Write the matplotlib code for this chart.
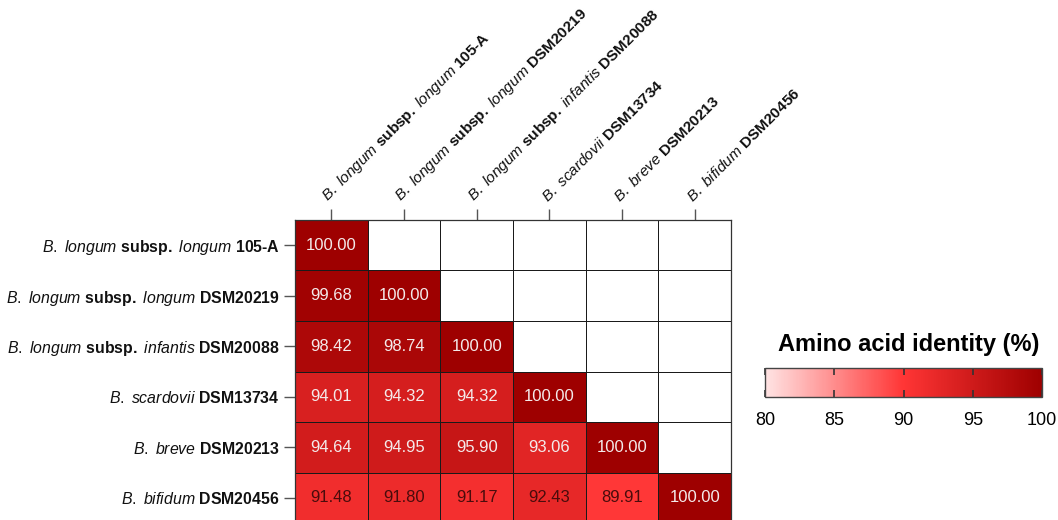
import numpy as np
import matplotlib
matplotlib.use("Agg")
import matplotlib.pyplot as plt
from matplotlib.colors import LinearSegmentedColormap, Normalize
from matplotlib.colorbar import ColorbarBase

plt.rcParams["font.family"] = ["Liberation Sans", "DejaVu Sans"]
plt.rcParams["mathtext.fontset"] = "custom"
plt.rcParams["mathtext.rm"] = "Liberation Sans"
plt.rcParams["mathtext.it"] = "Liberation Sans:italic"
plt.rcParams["mathtext.bf"] = "Liberation Sans:bold"

# Strains: species name (italic, with "subsp." in bold) and strain id (bold)
species = [
    "B. longum subsp. longum",
    "B. longum subsp. longum",
    "B. longum subsp. infantis",
    "B. scardovii",
    "B. breve",
    "B. bifidum",
]
strains = ["105-A", "DSM20219", "DSM20088", "DSM13734", "DSM20213", "DSM20456"]

# Pairwise amino acid identity (%), lower triangle, row by row
identity = [
    [100.00],
    [99.68, 100.00],
    [98.42, 98.74, 100.00],
    [94.01, 94.32, 94.32, 100.00],
    [94.64, 94.95, 95.90, 93.06, 100.00],
    [91.48, 91.80, 91.17, 92.43, 89.91, 100.00],
]

vmin, vmax = 80, 100
cbar_ticks = [80, 85, 90, 95, 100]


def mixed_label(sp, strain):
    parts = []
    for word in sp.split(" "):
        if word == "subsp.":
            parts.append(r"$\mathbf{subsp.}$")
        else:
            parts.append(r"$\mathit{" + word + "}$")
    strain_tex = strain.replace("-", "\u2010")
    parts.append(r"$\mathbf{" + strain_tex + "}$")
    return " ".join(parts)


labels = [mixed_label(s, k) for s, k in zip(species, strains)]

n = len(strains)
mat = np.full((n, n), np.nan)
for i, row in enumerate(identity):
    mat[i, :len(row)] = row
data = np.ma.masked_invalid(mat)

cmap = LinearSegmentedColormap.from_list(
    "aai", [(0.0, "#ffe4e4"), (0.5, "#ff3535"), (1.0, "#9e0000")])
cmap.set_bad("white")
norm = Normalize(vmin=vmin, vmax=vmax)

fig = plt.figure(figsize=(10.58, 5.2), dpi=100)
W, H = 1058, 520
x0, x1, y0, y1 = 295, 731, 220, 523
ax = fig.add_axes([x0 / W, 1 - y1 / H, (x1 - x0) / W, (y1 - y0) / H])

ax.pcolormesh(np.arange(n + 1), np.arange(n + 1), data, cmap=cmap, norm=norm,
              edgecolor="#1a1a1a", linewidth=0.7)
ax.set_xlim(0, n)
ax.set_ylim(n, 0)

for i in range(n):
    for j in range(n):
        v = mat[i, j]
        if np.isnan(v):
            continue
        color = "#f4eaea" if v >= 93 else "#4a0c0c"
        ax.text(j + 0.5, i + 0.5, f"{v:.2f}", ha="center", va="center",
                fontsize=12, color=color)

for sp in ax.spines.values():
    sp.set_color("#333333")
    sp.set_linewidth(0.9)

ax.xaxis.tick_top()
ax.set_xticks(np.arange(n) + 0.5)
ax.set_yticks(np.arange(n) + 0.5)
ax.tick_params(axis="both", length=8, width=1, color="#555555", pad=3)
ax.set_xticklabels(labels, rotation=45, ha="left", va="bottom",
                   rotation_mode="anchor", fontsize=11.1, color="#111111")
ax.set_yticklabels(labels, fontsize=11.4, color="#111111")

# Horizontal colour key
cax = fig.add_axes([765 / W, 1 - 397 / H, (1042 - 765) / W, 29 / H])
cb = ColorbarBase(cax, cmap=cmap, norm=norm, orientation="horizontal",
                  ticks=cbar_ticks)
cb.outline.set_edgecolor("#444444")
cb.outline.set_linewidth(1.0)
cax.tick_params(axis="x", direction="in", length=5, width=1.2,
                color="#333333", top=True, bottom=True, labelsize=13, pad=11)
cax.set_xticklabels([str(t) for t in cbar_ticks])
fig.text(909 / W, 1 - 344 / H, "Amino acid identity (%)",
         ha="center", va="center", fontsize=17, fontweight="bold")

fig.savefig("out.png", dpi=100)
